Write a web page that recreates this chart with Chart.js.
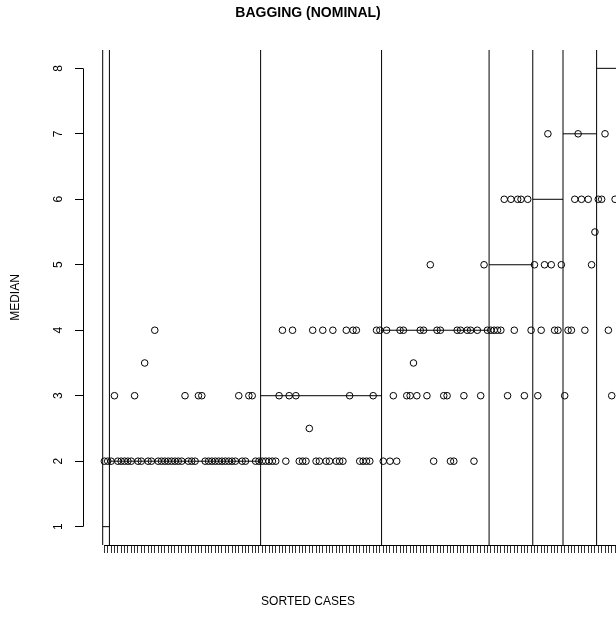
<!DOCTYPE html>
<html>
<head>
<meta charset="utf-8">
<script src="https://cdn.jsdelivr.net/npm/chart.js@4.4.1/dist/chart.umd.min.js"></script>
<style>
  html, body { margin: 0; padding: 0; background: #fff; overflow: hidden; }
</style>
</head>
<body>
<canvas id="chart" width="616" height="625"></canvas>
<script>
// true class of each group of sorted cases, and how many cases fall in it
var classLevels = [1, 2, 3, 4, 5, 6, 7, 8];
var classCounts = [2, 45, 36, 32, 13, 9, 10, 13];
var yTicks = [1, 2, 3, 4, 5, 6, 7, 8];

// predicted median per case, in sorted order (class by class)
var medianClass1 = [2, 2];
var medianClass2 = [2, 3, 2, 2, 2, 2, 2, 3, 2, 2, 3.5, 2, 2, 4,
                    2, 2, 2, 2, 2, 2, 2, 2,
                    3, 2, 2, 2, 3, 3,
                    2, 2, 2, 2, 2, 2, 2, 2, 2, 2,
                    3, 2, 2, 3, 3, 2, 2];
var medianClass3 = [2, 2, 2, 2, 2, 3, 4, 2, 3, 4, 3, 2, 2, 2, 2.5, 4, 2, 2,
                    4, 2, 2, 4, 2, 2, 2, 4, 3, 4, 4, 2, 2, 2, 2, 3, 4, 4];
var medianClass4 = [2, 4, 2, 3, 2, 4, 4, 3, 3, 3.5, 3, 4, 4, 3, 5, 2,
                    4, 4, 3, 3, 2, 2, 4, 4, 3, 4, 4, 2, 4, 3, 5, 4];
var medianClass5 = [4, 4, 4, 4, 6, 3, 6, 4, 6, 6, 3, 6, 4];
var medianClass6 = [5, 3, 4, 5, 7, 5, 4, 4, 5];
var medianClass7 = [3, 4, 4, 6, 7, 6, 4, 6, 5, 5.5];
var medianClass8 = [6, 6, 7, 4, 3, 6];

var totalCases = 160;
var xMin = -5.36, xMax = 153.27;   // right part of the original plot is cut off
var yMin = 0.72, yMax = 8.28;

var FONT = '"Liberation Sans", Arial, Helvetica, sans-serif';

var medians = [].concat(medianClass1, medianClass2, medianClass3, medianClass4,
                        medianClass5, medianClass6, medianClass7, medianClass8);

var caseTicks = [];
for (var i = 1; i <= totalCases; i++) {
  if (i <= xMax) caseTicks.push(i);
}

// group boundaries sit halfway between cases
var bounds = [0.5];
classCounts.forEach(function (n, i) { bounds.push(bounds[i] + n); });

var datasets = [];

datasets.push({
  type: 'scatter',
  data: medians.map(function (v, i) { return { x: i + 1, y: v }; }),
  pointStyle: 'circle',
  pointRadius: 3.3,
  pointBorderWidth: 1,
  borderColor: '#000',
  backgroundColor: 'rgba(0,0,0,0)',
  showLine: false
});

bounds.forEach(function (b) {
  datasets.push({
    type: 'line',
    data: [{ x: b, y: yMin }, { x: b, y: yMax }],
    borderColor: '#000',
    borderWidth: 1,
    pointRadius: 0,
    fill: false
  });
});

classLevels.forEach(function (lvl, i) {
  datasets.push({
    type: 'line',
    data: [{ x: bounds[i], y: lvl }, { x: bounds[i + 1], y: lvl }],
    borderColor: '#000',
    borderWidth: 1,
    pointRadius: 0,
    fill: false
  });
});

// R style axes: line only between first and last tick, rotated y labels
var rAxes = {
  id: 'rAxes',
  afterDraw: function (chart) {
    var ctx = chart.ctx;
    var xs = chart.scales.x, ys = chart.scales.y;
    var area = chart.chartArea;
    ctx.save();
    ctx.strokeStyle = '#000';
    ctx.lineWidth = 1;
    ctx.beginPath();
    var ax = Math.round(area.left) + 0.5;
    ctx.moveTo(ax, ys.getPixelForValue(yTicks[0]));
    ctx.lineTo(ax, ys.getPixelForValue(yTicks[yTicks.length - 1]));
    var by = Math.round(area.bottom) + 0.5;
    ctx.moveTo(xs.getPixelForValue(caseTicks[0]), by);
    ctx.lineTo(area.right, by);
    ctx.stroke();

    ctx.fillStyle = '#000';
    ctx.font = '12px ' + FONT;
    ctx.textAlign = 'center';
    ctx.textBaseline = 'middle';
    yTicks.forEach(function (v) {
      ctx.save();
      ctx.translate(area.left - 24, ys.getPixelForValue(v));
      ctx.rotate(-Math.PI / 2);
      ctx.fillText(String(v), 0, 0);
      ctx.restore();
    });
    ctx.restore();
  }
};

new Chart(document.getElementById('chart').getContext('2d'), {
  type: 'scatter',
  data: { datasets: datasets },
  plugins: [rAxes],
  options: {
    responsive: false,
    animation: false,
    layout: { padding: 0, autoPadding: false },
    plugins: {
      legend: { display: false },
      tooltip: { enabled: false },
      title: {
        display: true,
        text: 'BAGGING (NOMINAL)',
        color: '#000',
        font: { family: FONT, size: 14, weight: 'bold', lineHeight: 1.2 },
        padding: { top: 5, bottom: 28.2 }
      },
      subtitle: {
        display: true,
        position: 'bottom',
        text: 'SORTED CASES',
        color: '#000',
        font: { family: FONT, size: 12, lineHeight: 1.2 },
        padding: { top: 19.8, bottom: 15.8 }
      }
    },
    scales: {
      x: {
        type: 'linear',
        min: xMin,
        max: xMax,
        afterFit: function (s) { s.height = 30; },
        afterBuildTicks: function (s) {
          s.ticks = caseTicks.map(function (v) { return { value: v }; });
        },
        ticks: { display: false, autoSkip: false },
        grid: { drawOnChartArea: false, drawTicks: true, tickLength: 8, color: '#333' },
        border: { display: false }
      },
      y: {
        type: 'linear',
        min: yMin,
        max: yMax,
        afterFit: function (s) { s.width = 83; },
        afterBuildTicks: function (s) {
          s.ticks = yTicks.map(function (v) { return { value: v }; });
        },
        ticks: { display: false },
        grid: { drawOnChartArea: false, drawTicks: true, tickLength: 8, color: '#000' },
        border: { display: false },
        title: {
          display: true,
          text: 'MEDIAN',
          color: '#000',
          font: { family: FONT, size: 12, lineHeight: 1.2 },
          padding: { top: 8, bottom: 0 }
        }
      }
    }
  }
});
</script>
</body>
</html>
